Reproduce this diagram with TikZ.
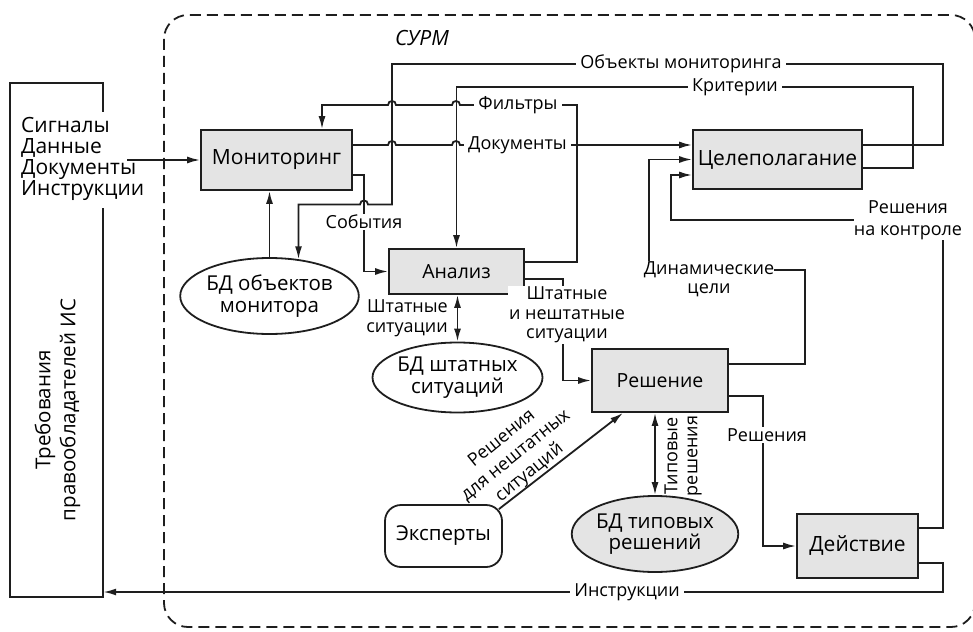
\documentclass[tikz,border=0pt]{standalone}
\usepackage{fontspec}
\setmainfont{Open Sans}
\usetikzlibrary{arrows.meta,shapes.geometric,calc}

\definecolor{ink}{RGB}{30,30,30}
\definecolor{boxgray}{RGB}{228,228,228}

\begin{document}
\begin{tikzpicture}[x=1pt,y=-1pt,
  ln/.style={line width=1.8pt, draw=ink},
  arr/.style={ln, -{Latex[length=13pt,width=7pt]}},
  darr/.style={ln, {Latex[length=13pt,width=7pt]}-{Latex[length=13pt,width=7pt]}},
  proc/.style={draw=ink, line width=1.8pt, fill=boxgray, rectangle, inner sep=0pt,
    font=\fontsize{21}{25}\selectfont},
  smallproc/.style={proc, font=\fontsize{19.5}{23}\selectfont},
  db/.style={draw=ink, line width=1.8pt, ellipse, inner sep=0pt, align=center,
    font=\fontsize{20.5}{21.5}\selectfont},
  lbl/.style={fill=white, inner xsep=4pt, inner ysep=1pt, align=center,
    font=\fontsize{18}{19.5}\selectfont},
  txt/.style={inner sep=0pt, align=center, font=\fontsize{18}{19.5}\selectfont},
  boundary/.style={draw=ink, line width=1.8pt, dash pattern=on 11pt off 6pt}
]
\useasboundingbox (0,0) rectangle (973,631);

% system boundary
\draw[boundary, rounded corners=24pt] (164,15) rectangle (975,627);
\node[font=\fontsize{21}{25}\selectfont\itshape] (surm) at (422,38) {СУРМ};

% external requirements block
\node[minimum width=93pt, minimum height=514pt, inner sep=0pt] (req) at (56.5,340) {};
\coordinate (gapTop) at (0,112);
\coordinate (gapBot) at (0,208);
\draw[ln] (req.east |- gapTop) -- (req.north east) -- (req.north west)
  -- (req.south west) -- (req.south east) -- (req.east |- gapBot);
\node[rotate=90, inner sep=0pt, align=center, font=\fontsize{20.5}{25}\selectfont]
  (reqtxt) at (57.5,410) {Требования\\правообладателей ИС};
\node[anchor=west, inner sep=0pt, align=left, font=\fontsize{21}{21}\selectfont]
  (sig) at (21,158.5) {Сигналы\\Данные\\Документы\\Инструкции};
\coordinate (inS) at (127,160);

% processes
\node[proc, minimum width=151pt, minimum height=60pt] (mon) at (276.5,160) {Мониторинг};
\node[proc, minimum width=169pt, minimum height=59pt] (cel) at (777.5,159.5) {Целеполагание};
\node[smallproc, minimum width=135pt, minimum height=45pt] (an) at (456.5,271.5) {Анализ};
\node[smallproc, minimum width=136pt, minimum height=63pt] (res) at (660,380.5) {Решение};
\node[proc, minimum width=121pt, minimum height=64pt] (act) at (857.5,546) {Действие};

% databases and experts
\node[db, minimum width=165pt, minimum height=76pt] (dbmon) at (269.5,296) {БД объектов\\монитора};
\node[db, minimum width=167pt, minimum height=70pt] (dbst) at (457.5,377.5) {БД штатных\\ситуаций};
\node[db, fill=boxgray, minimum width=166pt, minimum height=76pt] (dbtyp) at (655,534) {БД типовых\\решений};
\node[draw=ink, line width=1.8pt, rounded corners=16pt, minimum width=117pt, minimum height=62pt,
  inner sep=0pt, font=\fontsize{20.5}{24}\selectfont] (exp) at (443.5,536) {Эксперты};

% labels that terminate connectors
\node[txt] (ldyn) at (709,279) {Динамические\\цели};
\node[txt, font=\fontsize{18}{22}\selectfont] (lctl) at (908,220) {Решения\\на контроле};

% rails
\coordinate (rail) at (943,0);
\coordinate (dynX) at (649,0);
\coordinate (yInst) at (0,592);
\coordinate (objTurn) at (298.5,204.5);

% input from owners
\draw[arr] (inS) -- (mon.west);

% Мониторинг -> Целеполагание (documents)
\draw[arr] ([yshift=15pt]mon.east) -- (388,145)
  .. controls (388,139.7) and (396,139.7) .. (396,145) -- (452,145)
  .. controls (452,139.7) and (460,139.7) .. (460,145) -- ([yshift=14.5pt]cel.west);

% События
\draw[arr] ([yshift=-15pt]mon.east) -- (364,175) -- (364,271.5) -- (an.west);

% Фильтры
\draw[arr] ([yshift=9.5pt]an.east) -- (577,262) -- (577,105) -- (460,105)
  .. controls (460,99.7) and (452,99.7) .. (452,105) -- (396,105)
  .. controls (396,99.7) and (388,99.7) .. (388,105) -- (322,105) -- ([xshift=45.5pt]mon.north);

% Объекты мониторинга
\draw[arr] ([yshift=14.5pt]cel.east) -- (943,145) -- (943,64) -- (392,64) -- (392,204.5)
  -- (368,204.5) .. controls (368,199.2) and (360,199.2) .. (360,204.5)
  -- (objTurn) -- (objTurn |- dbmon.51);

% Критерии
\draw[arr] ([yshift=-8.5pt]cel.east) -- (913,168) -- (913,87) -- (456.5,87) -- (an.north);

% databases
\draw[arr] (dbmon.north) -- (dbmon.north |- mon.south);
\draw[darr] (dbst.north) -- (dbst.north |- an.south);
\draw[darr] (dbtyp.north) -- (dbtyp.north |- res.south);

% Анализ -> Решение
\draw[arr] ([yshift=-7.5pt]an.east) -- (563,279) -- (563,380.5) -- (res.west);

% Эксперты -> Решение
\draw[arr] ([shift={(-4pt,-5pt)}]exp.north east) -- ([xshift=-37pt]res.south);

% Динамические цели
\draw[ln] ([yshift=16.5pt]res.east) -- (805,364) -- (805,270) -- (ldyn.east |- 0,270);
\draw[arr] (ldyn.north -| dynX) -- (dynX |- cel.west) -- (cel.west);

% Решения на контроле
\draw[ln] ([yshift=18pt]act.east) -| (rail |- lctl.south);
\draw[arr] (lctl.west) -| (671,175) -- ([yshift=-15.5pt]cel.west);

% Решение -> Действие
\draw[arr] ([yshift=-15.5pt]res.east) -- (763,396) -- (763,546) -- (act.west);

% Инструкции
\draw[arr] ([yshift=-17pt]act.east) -| (rail |- yInst) -- (req.east |- yInst);

% labels on connectors
\node[lbl] (lDoc) at (517.5,145) {Документы};
\node[lbl] (lFil) at (518,105) {Фильтры};
\node[lbl] (lObj) at (681,64) {Объекты мониторинга};
\node[lbl] (lKrit) at (735,87) {Критерии};
\node[lbl, inner xsep=1pt] (lSob) at (364,222) {События};
\node[lbl, inner xsep=1pt] (lSit) at (567,315) {Штатные\\и нештатные\\ситуации};
\node[lbl, inner xsep=1pt] (lRes) at (767,435) {Решения};
\node[lbl] (lInst) at (627,592) {Инструкции};
\node[txt, anchor=east, align=right] (lStat) at (448,318) {Штатные\\ситуации};
\node[txt, rotate=39, font=\fontsize{18}{22}\selectfont] (lExp) at (516,456) {Решения\\для нештатных\\ситуаций};
\node[txt, rotate=90, font=\fontsize{18}{20}\selectfont] (lTyp) at (683,456) {Типовые\\решения};
\end{tikzpicture}
\end{document}
